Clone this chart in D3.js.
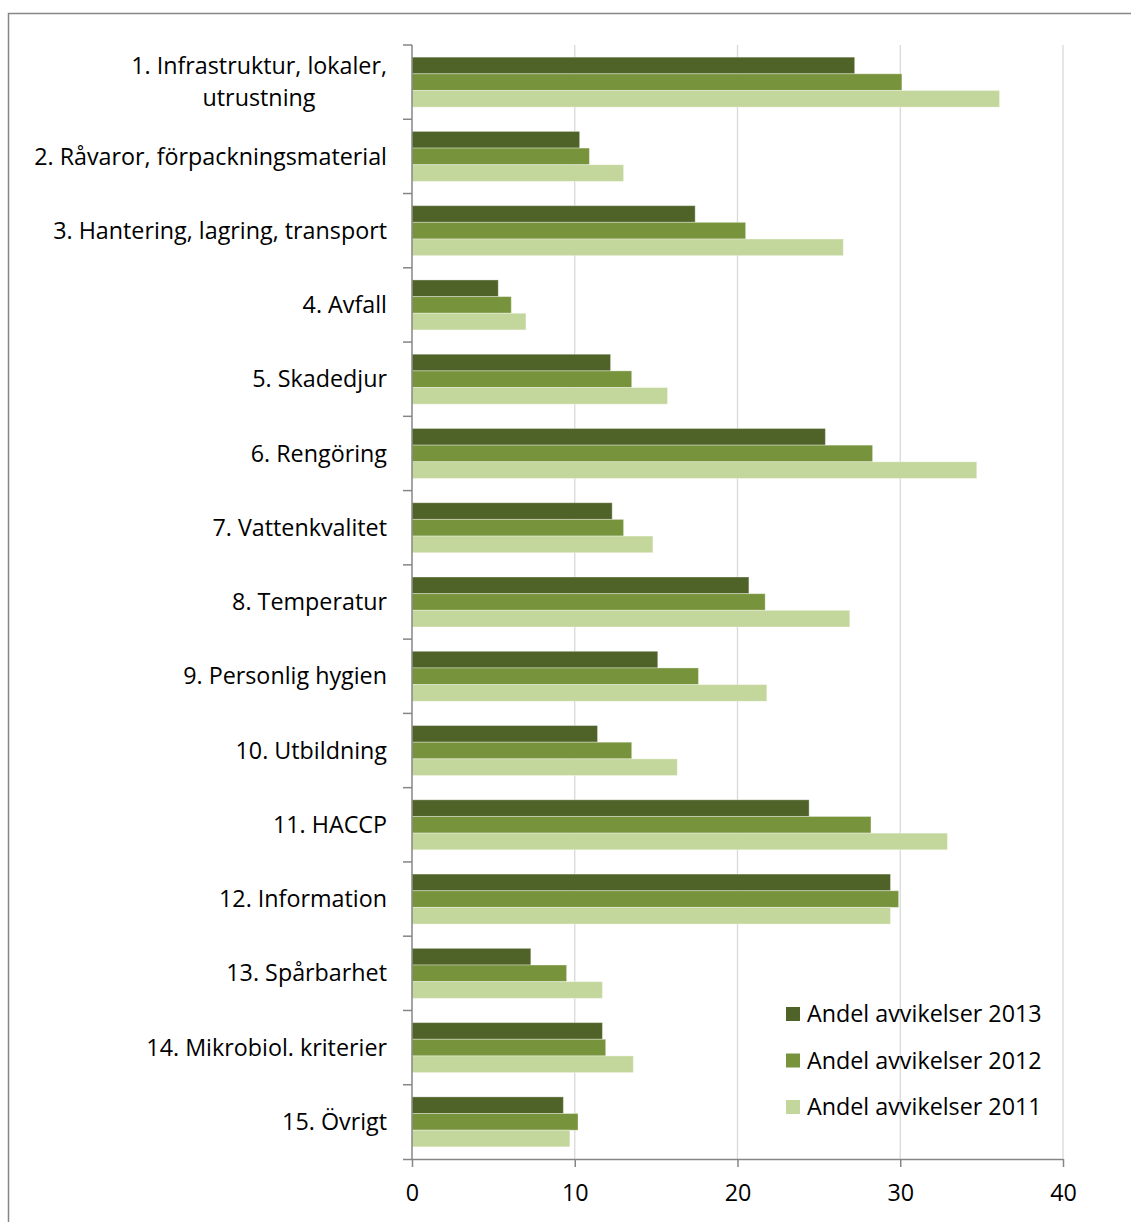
<!DOCTYPE html>
<html lang="sv">
<head>
  <meta charset="UTF-8" />
  <title>Andel avvikelser</title>
  <style>
    html, body { margin: 0; padding: 0; background: #fff; overflow: hidden; }
    svg { font-family: "Open Sans", Lato, sans-serif; }
    .grid line { stroke: #d9d9d9; stroke-width: 1.3px; }
    .axis path, .axis line { stroke: #868686; stroke-width: 1.5px; }
    .label { font-size: 23.3px; fill: #000; }
  </style>
</head>
<body>
  <svg width="1131" height="1222"></svg>

  <script src="https://d3js.org/d3.v7.min.js"></script>
  <script>
    const categories = [
      "1. Infrastruktur, lokaler, utrustning",
      "2. Råvaror, förpackningsmaterial",
      "3. Hantering, lagring, transport",
      "4. Avfall",
      "5. Skadedjur",
      "6. Rengöring",
      "7. Vattenkvalitet",
      "8. Temperatur",
      "9. Personlig hygien",
      "10. Utbildning",
      "11. HACCP",
      "12. Information",
      "13. Spårbarhet",
      "14. Mikrobiol. kriterier",
      "15. Övrigt"
    ];
    // label lines (category 1 wraps in the original)
    const labelLines = [
      ["1. Infrastruktur, lokaler,", "utrustning"]
    ];

    const years = ["2013", "2012", "2011"];
    const seriesNames = ["Andel avvikelser 2013", "Andel avvikelser 2012", "Andel avvikelser 2011"];
    const colors = ["#4f6228", "#77933c", "#c3d69b"];

    const values2013 = [27.2, 10.3, 17.4, 5.3, 12.2, 25.4, 12.3, 20.7, 15.1, 11.4, 24.4, 29.4, 7.3, 11.7, 9.3];
    const values2012 = [30.1, 10.9, 20.5, 6.1, 13.5, 28.3, 13.0, 21.7, 17.6, 13.5, 28.2, 29.9, 9.5, 11.9, 10.2];
    const values2011 = [36.1, 13.0, 26.5, 7.0, 15.7, 34.7, 14.8, 26.9, 21.8, 16.3, 32.9, 29.4, 11.7, 13.6, 9.7];

    const xTicks = [0, 10, 20, 30, 40];

    const series = [values2013, values2012, values2011];

    const svg = d3.select("svg");

    // outer frame
    svg.append("rect")
      .attr("x", 8.5).attr("y", 13.5)
      .attr("width", 1140).attr("height", 1240)
      .attr("fill", "none").attr("stroke", "#868686").attr("stroke-width", 1.5);

    const pLeft = 412, pRight = 1063, pTop = 45, pBottom = 1159;

    const x = d3.scaleLinear().domain([0, 40]).range([pLeft, pRight]);
    const y = d3.scaleBand().domain(categories).range([pTop, pBottom]).paddingInner(0.327).paddingOuter(0.1635);
    const ySub = d3.scaleBand().domain(years).range([0, y.bandwidth()]);
    const step = y.step();

    // gridlines
    svg.append("g").attr("class", "grid")
      .selectAll("line")
      .data(xTicks.slice(1))
      .join("line")
      .attr("x1", d => x(d)).attr("x2", d => x(d))
      .attr("y1", pTop).attr("y2", pBottom);

    // bars
    const groups = svg.append("g")
      .selectAll("g")
      .data(categories)
      .join("g")
      .attr("transform", d => `translate(0,${y(d)})`);

    groups.selectAll("rect")
      .data((d, i) => years.map((yr, j) => ({ yr, v: series[j][i], c: colors[j] })))
      .join("rect")
      .attr("x", x(0))
      .attr("y", d => ySub(d.yr))
      .attr("width", d => x(d.v) - x(0))
      .attr("height", ySub.bandwidth())
      .attr("fill", d => d.c)
      .attr("stroke", "rgba(255,255,255,0.35)")
      .attr("stroke-width", 1);

    // x axis
    const xAxis = svg.append("g").attr("class", "axis")
      .attr("transform", `translate(0,${pBottom})`)
      .call(d3.axisBottom(x).tickValues(xTicks).tickSize(8).tickSizeOuter(0).tickPadding(17));
    xAxis.select(".domain").attr("d", `M${pLeft - 9},0.5H${pRight}`);
    xAxis.selectAll("text").attr("class", "label");
    xAxis.attr("font-family", null).attr("font-size", null);

    // y axis with ticks at category boundaries
    const yAxis = svg.append("g").attr("class", "axis");
    yAxis.append("line")
      .attr("x1", pLeft).attr("x2", pLeft)
      .attr("y1", pTop).attr("y2", pBottom);
    yAxis.selectAll(".btick")
      .data(d3.range(categories.length))
      .join("line")
      .attr("class", "btick")
      .attr("x1", pLeft - 9).attr("x2", pLeft)
      .attr("y1", i => pTop + i * step).attr("y2", i => pTop + i * step);

    // category labels
    svg.append("g")
      .selectAll("text")
      .data(categories)
      .join("text")
      .attr("class", "label")
      .attr("text-anchor", "end")
      .attr("x", 387)
      .attr("y", d => y(d) + y.bandwidth() / 2)
      .each(function (d, i) {
        const lines = labelLines[i] || [d];
        const t = d3.select(this);
        lines.forEach((ln, k) => {
          t.append("tspan")
            .attr("x", i === 0 && k === 1 ? 259 : 387)
            .attr("text-anchor", i === 0 && k === 1 ? "middle" : "end")
            .attr("dy", k === 0 ? `${0.35 - (lines.length - 1) * 0.69}em` : "1.38em")
            .text(ln);
        });
      });

    // legend
    const legend = svg.append("g")
      .selectAll("g")
      .data(seriesNames)
      .join("g")
      .attr("transform", (d, i) => `translate(786,${1014 + i * 46.5})`);
    legend.append("rect")
      .attr("x", 0).attr("y", -7).attr("width", 14).attr("height", 14)
      .attr("fill", (d, i) => colors[i]);
    legend.append("text")
      .attr("class", "label")
      .attr("x", 21).attr("dy", "0.35em")
      .text(d => d);
  </script>
</body>
</html>
